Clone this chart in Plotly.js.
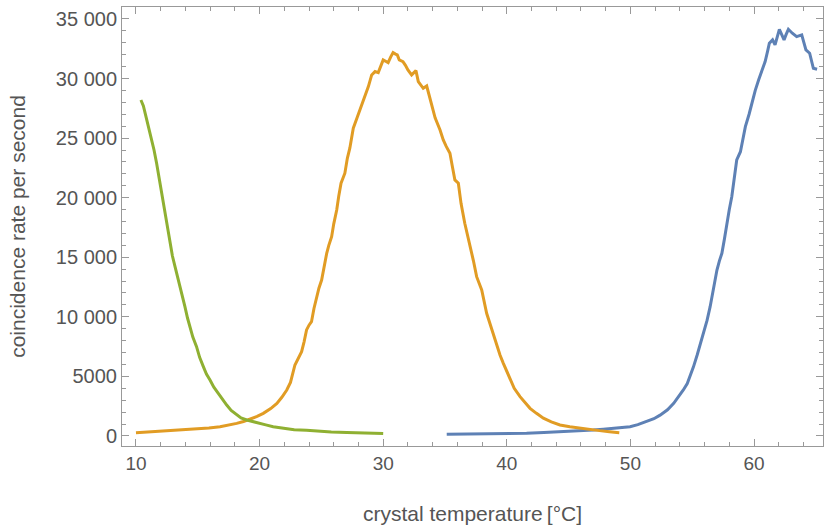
<!DOCTYPE html>
<html>
<head>
<meta charset="utf-8">
<script src="https://cdn.plot.ly/plotly-3.0.1.min.js"></script>
<style>html,body{margin:0;padding:0;background:#fff;}#chart{width:824px;height:528px;}</style>
</head>
<body>
<div id="chart"></div>
<script>
// green series (low-temperature phase-matching)
const greenT = [10.4,10.6,10.81,11.0,11.13,11.3,11.46,11.67,11.94,12.15,12.35,12.55,12.75,12.95,13.16,13.36,13.56,13.76,13.96,14.17,14.37,14.6,14.9,15.15,15.45,15.7,15.99,16.3,16.66,17.0,17.34,17.7,18.15,18.5,18.96,19.5,20.03,20.5,21.1,21.65,22.2,22.8,23.8,24.8,25.8,27.05,28.0,29.0,30.0];
const greenV = [28200,27700,26800,26000,25400,24900,24000,22890,21210,19900,18690,17400,16170,15100,14210,13300,12530,11600,10850,9900,9170,8300,7500,6600,5820,5200,4700,4100,3580,3050,2600,2150,1760,1520,1340,1180,1060,930,780,700,590,520,480,400,340,300,260,220,200];
// orange series
const orangeT = [10.0,11.0,12.2,13.5,14.9,15.9,16.8,17.5,18.15,18.7,19.2,19.8,20.3,20.9,21.4,21.8,22.2,22.5,22.86,23.1,23.4,23.6,23.8,24.0,24.2,24.4,24.6,24.8,25.02,25.2,25.43,25.6,25.83,26.0,26.24,26.4,26.59,26.9,27.1,27.3,27.58,27.85,28.12,28.3,28.53,28.8,29.07,29.34,29.6,29.8,30.0,30.2,30.4,30.6,30.8,31.0,31.14,31.3,31.6,31.8,32.0,32.3,32.65,32.84,33.05,33.24,33.52,33.8,34.05,34.2,34.6,34.86,35.1,35.4,35.6,35.8,36.08,36.3,36.6,37.0,37.3,37.56,37.97,38.37,38.8,39.18,39.45,39.72,40.0,40.26,40.6,41.07,41.5,41.88,42.4,42.96,43.6,44.3,45.1,45.9,46.7,47.5,48.3,49.1,49.9];
const orangeV = [280,340,420,500,590,680,780,900,1060,1220,1400,1640,1900,2300,2740,3250,3860,4500,5960,6500,7080,7900,8900,9300,9590,10700,11690,12400,13090,14200,15330,16000,16730,17800,18970,20100,21210,22050,23300,24150,25830,26600,27360,27900,28480,29320,30300,30580,30490,31000,31560,31450,31330,31800,32170,32050,31980,31560,31420,31100,30720,30300,30660,29740,29450,29180,29370,28200,27080,26700,25680,24840,24300,23730,22600,21490,21210,19500,17850,16170,14700,13370,12250,10300,8900,7500,6800,6100,5400,4700,4000,3300,2800,2320,1900,1490,1180,920,780,650,540,450,360,280];
// blue series
const blueT = [35.14,36.5,38.37,40.0,41.6,43.0,44.57,45.8,47.0,47.8,48.6,49.3,49.97,50.6,51.3,51.9,52.4,53.0,53.5,53.9,54.28,54.6,54.83,55.1,55.4,55.65,55.9,56.2,56.45,56.7,57.0,57.2,57.4,57.6,57.8,58.0,58.2,58.4,58.6,58.9,59.1,59.3,59.6,59.84,60.1,60.37,60.6,60.9,61.1,61.24,61.5,61.7,62.05,62.25,62.43,62.6,62.78,63.1,63.45,63.86,64.2,64.5,64.8,65.1];
const blueV = [140,150,170,200,230,290,360,430,500,570,650,700,780,950,1200,1450,1750,2200,2740,3300,3860,4400,4980,5800,6800,7700,8620,9700,10850,12300,13930,14700,15330,16500,17850,19000,20080,21600,23160,23860,24900,25960,27000,28060,29000,29880,30600,31420,32300,32960,33240,32820,34130,33700,33240,33700,34130,33800,33510,33660,32400,32120,30860,30780];

const xTicks = [10,20,30,40,50,60];
const yTickVals = [0,5000,10000,15000,20000,25000,30000,35000];
const yTickText = ['0','5000','10 000','15 000','20 000','25 000','30 000','35 000'];

const fontFam = 'Liberation Sans, Arial, sans-serif';
const axisCol = '#999999';
const textCol = '#555555';

function tr(x, y, c) {
  return {x: x, y: y, type: 'scatter', mode: 'lines', line: {color: c, width: 3}, hoverinfo: 'skip', showlegend: false};
}
const data = [tr(blueT, blueV, '#5E81B5'), tr(orangeT, orangeV, '#E19C24'), tr(greenT, greenV, '#8FB032')];

const layout = {
  width: 824, height: 528,
  margin: {l: 122, r: 1, t: 7, b: 82},
  paper_bgcolor: '#fff', plot_bgcolor: '#fff',
  showlegend: false,
  xaxis: {
    range: [8.87, 65.58], showgrid: false, zeroline: false,
    showline: true, linecolor: axisCol, linewidth: 1, mirror: 'allticks',
    ticks: 'inside', ticklen: 7, tickwidth: 1, tickcolor: axisCol,
    tickmode: 'array', tickvals: xTicks, ticktext: xTicks.map(String),
    tickfont: {family: fontFam, size: 19, color: textCol},
    minor: {tickmode: 'linear', tick0: 0, dtick: 2, ticks: 'inside', ticklen: 4, tickcolor: axisCol, showgrid: false},
    title: {text: 'crystal temperature\u2009[°C]', font: {family: fontFam, size: 21, color: textCol}, standoff: 33}
  },
  yaxis: {
    range: [-840, 36000], showgrid: false, zeroline: false,
    showline: true, linecolor: axisCol, linewidth: 1, mirror: 'allticks',
    ticks: 'inside', ticklen: 7, tickwidth: 1, tickcolor: axisCol,
    tickmode: 'array', tickvals: yTickVals, ticktext: yTickText,
    tickfont: {family: fontFam, size: 20, color: textCol},
    minor: {tickmode: 'linear', tick0: 0, dtick: 1000, ticks: 'inside', ticklen: 4, tickcolor: axisCol, showgrid: false},
    title: {text: 'coincidence rate per second', font: {family: fontFam, size: 21, color: textCol}, standoff: 24}
  }
};
Plotly.newPlot('chart', data, layout, {displayModeBar: false, staticPlot: true});
</script>
</body>
</html>
